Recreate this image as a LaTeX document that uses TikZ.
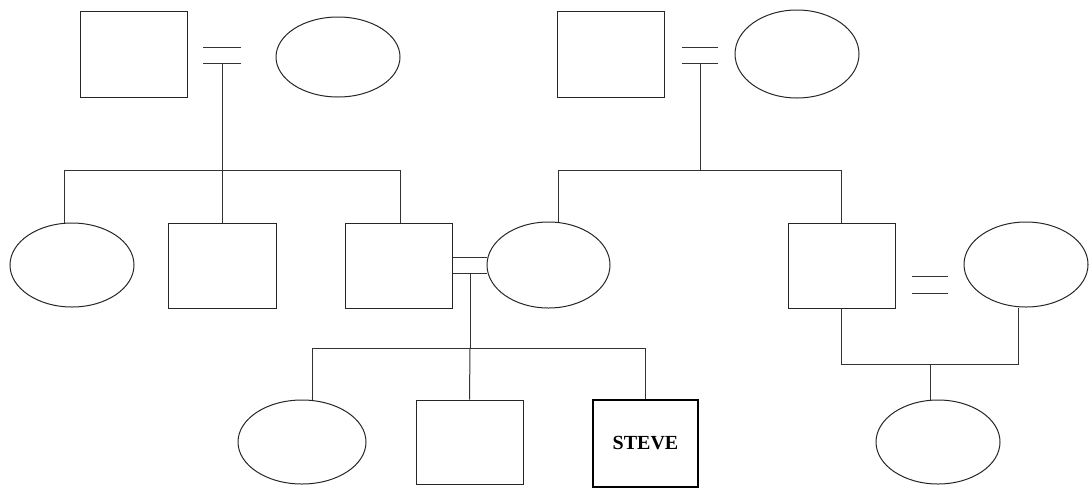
\documentclass[tikz,border=0pt]{standalone}
\usepackage{fontspec}
\setmainfont{Liberation Serif}
\usetikzlibrary{shapes.geometric}

\tikzset{
  link/.style={draw=black!80, line width=1pt},
  male/.style={rectangle, draw=black!85, line width=1pt, minimum width=107, minimum height=86, inner sep=0pt},
  female/.style={ellipse, draw=black!85, line width=1pt, minimum width=124, minimum height=84, inner sep=0pt},
  proband/.style={male, draw=black, line width=2.4pt, minimum width=105, minimum height=87,
                  font=\fontsize{20}{20}\selectfont\bfseries},
}

\begin{document}
\begin{tikzpicture}[x=1pt, y=-1pt]
  \useasboundingbox (0,0) rectangle (1091,491);

  % generation I
  \node[male]   (A) at (133.5,54) {};
  \node[female, minimum height=80] (B) at (338,57) {};
  \node[male]   (C) at (611,54) {};
  \node[female, minimum height=88] (D) at (797,54) {};

  % generation II
  \node[female] (E) at (72,265) {};
  \node[male, minimum width=108, minimum height=85] (F) at (222,265.5) {};
  \node[male, minimum height=85] (G) at (398.5,265.5) {};
  \node[female, minimum width=123, minimum height=86] (H) at (548.5,265) {};
  \node[male, minimum height=85] (I) at (841.5,265.5) {};
  \node[female, minimum height=85] (J) at (1026,264.5) {};

  % generation III
  \node[female, minimum width=128] (K) at (302,442) {};
  \node[male, minimum height=84] (L) at (469.5,442) {};
  \node[proband] (S) at (645.5,443.5) {STEVE};
  \node[female] (M) at (938,442) {};

  % left grandparents: marriage and sibship
  \coordinate (ab1) at (203,47);  \coordinate (ab2) at (241,47);
  \coordinate (ab3) at (203,63);  \coordinate (ab4) at (241,63);
  \coordinate (abm) at (222,63);
  \coordinate (sibL) at (222,170);
  \coordinate (sibLa) at (64,170);
  \coordinate (sibLc) at (400,170);
  \draw[link] (ab1) -- (ab2);
  \draw[link] (ab3) -- (ab4);
  \draw[link] (abm) -- (sibL);
  \draw[link] (sibLa) -- (sibLc);
  \draw[link] (sibLa) -- (sibLa |- E.north);
  \draw[link] (sibL) -- (F.north);
  \draw[link] (sibLc) -- (sibLc |- G.north);

  % right grandparents: marriage and sibship
  \coordinate (cd1) at (682,47);  \coordinate (cd2) at (718,47);
  \coordinate (cd3) at (682,63);  \coordinate (cd4) at (718,63);
  \coordinate (cdm) at (700,63);
  \coordinate (sibR) at (700,170);
  \coordinate (sibRa) at (558,170);
  \coordinate (sibRc) at (841.5,170);
  \draw[link] (cd1) -- (cd2);
  \draw[link] (cd3) -- (cd4);
  \draw[link] (cdm) -- (sibR);
  \draw[link] (sibRa) -- (sibRc);
  \draw[link] (sibRa) -- (sibRa |- H.north);
  \draw[link] (sibRc) -- (I.north);

  % double line between G and H, and their children
  \draw[link] ([yshift=-8]G.east) -- ([yshift=-8]G.east -| H.west);
  \draw[link] ([yshift=8.5]G.east) -- ([yshift=8.5]G.east -| H.west);
  \coordinate (ghm) at (470,274);
  \coordinate (kids) at (470,348);
  \coordinate (kidsa) at (312,348);
  \coordinate (kidsc) at (645.5,348);
  \draw[link] (ghm) -- (kids);
  \draw[link] (kidsa) -- (kidsc);
  \draw[link] (kidsa) -- (kidsa |- K.north);
  \draw[link] (kids) -- (L.north);
  \draw[link] (kidsc) -- (S.north);

  % I and J, and their daughter
  \coordinate (ij1) at (912,276);  \coordinate (ij2) at (948,276);
  \coordinate (ij3) at (912,293);  \coordinate (ij4) at (948,293);
  \draw[link] (ij1) -- (ij2);
  \draw[link] (ij3) -- (ij4);
  \coordinate (ijL) at (841.5,364);
  \coordinate (ijR) at (1018,364);
  \coordinate (ijM) at (930,364);
  \draw[link] (I.south) -- (ijL) -- (ijR) -- (ijR |- J.south);
  \draw[link] (ijM) -- (ijM |- M.north);
\end{tikzpicture}
\end{document}
